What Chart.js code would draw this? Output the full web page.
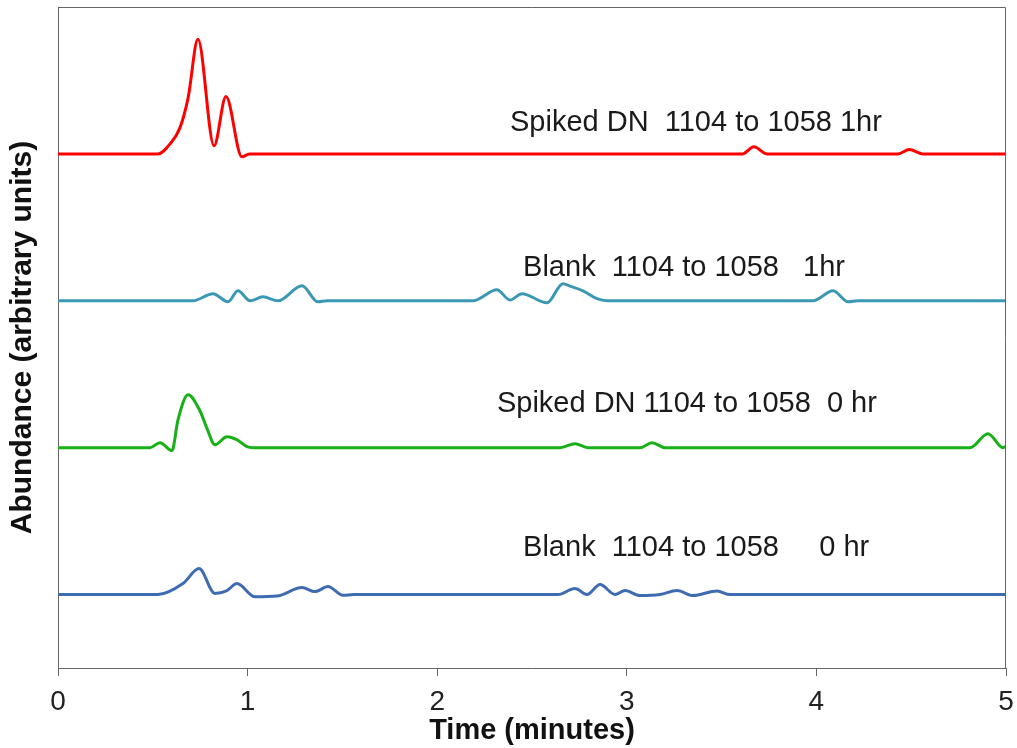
<!DOCTYPE html>
<html>
<head>
<meta charset="utf-8">
<script src="https://cdn.jsdelivr.net/npm/chart.js@4"></script>
<style>
    body { margin: 0; background: #fff; }
</style>
</head>
<body>
<canvas id="grafico" width="1017" height="748"></canvas>
<script>

/* DATA */

// traces stacked on top of each other, each one gets its own baseline offset
const seriesNames = ['Spiked DN 1hr', 'Blank 1hr', 'Spiked DN 0hr', 'Blank 0hr'];
const seriesOffsets = [350, 250, 150, 50];

const spiked1hTimes = [0, 0.527, 0.591, 0.643, 0.686, 0.738, 0.823, 0.886, 0.970, 1.01, 3.61, 3.67, 3.74, 4.43, 4.49, 4.56, 5];
const spiked1hValues = [0, 0, 6.8, 17.7, 38, 78, 5.5, 39, -2, 0, 0, 4.8, 0, 0, 3, 0, 0];

const blank1hTimes = [0, 0.712, 0.817, 0.897, 0.949, 1.013, 1.081, 1.160, 1.287, 1.371, 1.42, 2.189, 2.315, 2.384, 2.447, 2.579, 2.663, 2.70, 2.769, 2.843, 2.895, 3.982, 4.088, 4.167, 4.22, 5];
const blank1hValues = [0, 0, 4.8, -0.7, 6.8, 0, 2.7, 0, 10.2, -0.7, 0, 0, 7.5, 0.5, 4.8, -1.4, 11.6, 10, 6.8, 1.4, 0, 0, 6.8, -0.7, 0, 0];

const spiked0hTimes = [0, 0.485, 0.538, 0.601, 0.633, 0.686, 0.749, 0.786, 0.828, 0.891, 0.944, 0.997, 1.028, 2.648, 2.727, 2.795, 3.070, 3.133, 3.201, 4.810, 4.905, 4.984, 5];
const spiked0hValues = [0, 0, 3.4, -2, 19, 36, 25, 13, 2, 7.5, 5.4, 0.7, 0, 0, 2.7, 0, 0, 3.4, 0, 0, 9.5, 0, 1];

const blank0hTimes = [0, 0.527, 0.659, 0.744, 0.828, 0.891, 0.944, 1.039, 1.155, 1.287, 1.355, 1.424, 1.503, 1.56, 2.637, 2.727, 2.790, 2.859, 2.938, 2.991, 3.070, 3.175, 3.265, 3.349, 3.476, 3.544, 5];
const blank0hValues = [0, 0, 7.5, 17.7, 0.7, 2.7, 7.5, -1.5, -1, 4.8, 2, 5.4, -0.5, 0, 0, 4.1, 0, 6.8, 0, 2.7, -0.7, 0, 2.7, -0.7, 2.4, 0, 0];

const xTicks = [0, 1, 2, 3, 4, 5];

const labelTexts = [
    'Spiked DN  1104 to 1058 1hr',
    'Blank  1104 to 1058   1hr',
    'Spiked DN 1104 to 1058  0 hr',
    'Blank  1104 to 1058     0 hr'
];
const labelTimes = [2.384, 2.453, 2.315, 2.453];
const labelLevels = [371, 272.3, 180, 81.7];


/* HELPERS */

const cores = ['#ff0000', '#3b98b5', '#17b117', '#3f6cb0'];
const fonte = '"Liberation Sans", Arial, sans-serif';

function montarPontos(tempos, valores, offset) {
    return tempos.map((t, i) => ({ x: t, y: valores[i] + offset }));
}

const todosTempos = [spiked1hTimes, blank1hTimes, spiked0hTimes, blank0hTimes];
const todosValores = [spiked1hValues, blank1hValues, spiked0hValues, blank0hValues];

const datasets = seriesNames.map((nome, i) => ({
    label: nome,
    data: montarPontos(todosTempos[i], todosValores[i], seriesOffsets[i]),
    borderColor: cores[i],
    borderWidth: 3,
    pointRadius: 0,
    cubicInterpolationMode: 'monotone',
    fill: false
}));

// frame round the plot + the trace labels
const moldura = {
    id: 'moldura',
    afterDatasetsDraw(chart) {
        const { ctx, chartArea, scales } = chart;
        ctx.save();
        ctx.strokeStyle = '#666';
        ctx.lineWidth = 1;
        ctx.beginPath();
        ctx.moveTo(chartArea.left, chartArea.top + 0.5);
        ctx.lineTo(chartArea.right - 0.5, chartArea.top + 0.5);
        ctx.lineTo(chartArea.right - 0.5, chartArea.bottom);
        ctx.stroke();

        ctx.fillStyle = '#1a1a1a';
        ctx.font = '29px ' + fonte;
        ctx.textAlign = 'left';
        ctx.textBaseline = 'middle';
        labelTexts.forEach((txt, i) => {
            const x = scales.x.getPixelForValue(labelTimes[i]);
            const y = scales.y.getPixelForValue(labelLevels[i]);
            ctx.fillText(txt, x, y);
        });
        ctx.restore();
    }
};


/* CHART */

const grafico = document.querySelector('#grafico');

new Chart(grafico, {
    type: 'line',
    data: { datasets: datasets },
    options: {
        responsive: false,
        animation: false,
        layout: { padding: { top: 7, right: 11, left: 0, bottom: 0 } },
        plugins: {
            legend: { display: false },
            tooltip: { enabled: false }
        },
        scales: {
            x: {
                type: 'linear',
                min: 0,
                max: 5,
                afterBuildTicks: (scale) => { scale.ticks = xTicks.map(v => ({ value: v })); },
                afterFit: (scale) => {
                    scale.height = 80;
                    scale.paddingLeft = 0;
                    scale.paddingRight = 0;
                },
                ticks: {
                    color: '#222',
                    font: { family: fonte, size: 28 },
                    padding: 9,
                    maxRotation: 0
                },
                grid: {
                    drawOnChartArea: false,
                    tickLength: 8,
                    color: '#666'
                },
                border: { color: '#666' },
                title: {
                    display: true,
                    text: 'Time (minutes)',
                    color: '#111',
                    font: { family: fonte, size: 29, weight: 'bold' },
                    padding: { top: 0, bottom: 0 }
                }
            },
            y: {
                min: 0,
                max: 450,
                afterFit: (scale) => { scale.width = 58; },
                ticks: { display: false },
                grid: { display: false },
                border: { color: '#666' },
                title: {
                    display: true,
                    text: 'Abundance (arbitrary units)',
                    color: '#111',
                    font: { family: fonte, size: 30, weight: 'bold' },
                    padding: { top: 5, bottom: 0 }
                }
            }
        }
    },
    plugins: [moldura]
});
</script>
</body>
</html>
